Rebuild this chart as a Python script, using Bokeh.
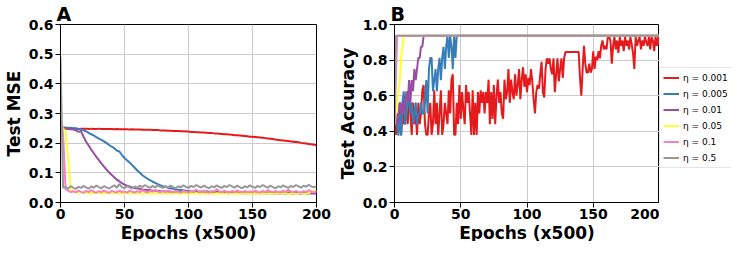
from bokeh.plotting import figure
from bokeh.layouts import row
from bokeh.models import FixedTicker, PrintfTickFormatter, Legend, LegendItem, Range1d, Title
from bokeh.embed import file_html
from bokeh.resources import INLINE

# ---------------- data ----------------
labels = ["η = 0.001", "η = 0.005", "η = 0.01", "η = 0.05", "η = 0.1", "η = 0.5"]
colors = ["#e41a1c", "#377eb8", "#984ea3", "#ffff33", "#f781bf", "#999999"]

epochs_a = list(range(0, 201, 2))

red_a = [0.260,0.250,0.249,0.249,0.250,0.249,0.249,0.248,0.249,0.249,
         0.249,0.248,0.249,0.248,0.248,0.249,0.248,0.248,0.248,0.248,
         0.248,0.247,0.248,0.247,0.247,0.247,0.247,0.246,0.247,0.246,
         0.246,0.246,0.245,0.245,0.245,0.245,0.244,0.244,0.244,0.243,
         0.243,0.243,0.242,0.242,0.241,0.241,0.241,0.240,0.240,0.239,
         0.239,0.238,0.238,0.237,0.237,0.236,0.236,0.235,0.234,0.234,
         0.233,0.233,0.232,0.231,0.230,0.230,0.229,0.228,0.227,0.227,
         0.226,0.225,0.224,0.223,0.222,0.222,0.221,0.220,0.219,0.218,
         0.217,0.216,0.215,0.214,0.212,0.211,0.210,0.209,0.208,0.207,
         0.206,0.205,0.204,0.203,0.201,0.200,0.199,0.197,0.196,0.195,
         0.193]
blue_a = [0.260,0.252,0.253,0.251,0.252,0.250,0.250,0.248,0.246,0.243,
          0.240,0.235,0.230,0.226,0.220,0.215,0.211,0.206,0.200,0.194,
          0.188,0.183,0.175,0.172,0.160,0.150,0.142,0.135,0.126,0.117,
          0.108,0.100,0.092,0.086,0.080,0.075,0.070,0.066,0.062,0.058,
          0.055,0.053,0.050,0.048,0.046,0.044,0.043,0.042,0.041,0.040,
          0.039,0.038,0.037,0.039,0.036,0.037,0.035,0.038,0.036,0.034,
          0.037,0.035,0.036,0.034,0.037,0.035,0.034,0.036,0.035,0.033,
          0.036,0.034,0.035,0.033,0.036,0.034,0.035,0.033,0.034,0.036,
          0.033,0.034,0.035,0.033,0.034,0.033,0.035,0.034,0.033,0.034,
          0.035,0.033,0.034,0.032,0.034,0.033,0.034,0.033,0.032,0.034,
          0.033]
purple_a = [0.260,0.252,0.250,0.248,0.247,0.246,0.243,0.238,0.240,0.222,
            0.205,0.192,0.178,0.166,0.154,0.143,0.131,0.121,0.111,0.101,
            0.093,0.085,0.077,0.071,0.065,0.060,0.057,0.054,0.051,0.049,
            0.047,0.046,0.044,0.043,0.042,0.041,0.040,0.040,0.039,0.038,
            0.038,0.037,0.036,0.037,0.035,0.036,0.035,0.036,0.034,0.035,
            0.034,0.035,0.034,0.033,0.034,0.033,0.034,0.033,0.032,0.033,
            0.034,0.032,0.033,0.032,0.033,0.032,0.033,0.032,0.031,0.033,
            0.032,0.031,0.032,0.031,0.032,0.031,0.032,0.031,0.032,0.031,
            0.030,0.031,0.032,0.030,0.031,0.030,0.031,0.030,0.031,0.030,
            0.031,0.030,0.031,0.030,0.030,0.031,0.030,0.030,0.031,0.030,
            0.030]
yellow_a = [0.260,0.250,0.240,0.150,0.045,0.038,0.036,0.033,0.035,0.031,
            0.034,0.032,0.030,0.033,0.031,0.034,0.030,0.032,0.031,0.033,
            0.030,0.032,0.031,0.029,0.032,0.030,0.033,0.031,0.029,0.032,
            0.030,0.031,0.029,0.032,0.030,0.031,0.029,0.031,0.030,0.032,
            0.029,0.031,0.030,0.029,0.031,0.030,0.032,0.029,0.031,0.030,
            0.029,0.031,0.030,0.032,0.029,0.031,0.030,0.029,0.031,0.030,
            0.029,0.031,0.030,0.032,0.029,0.031,0.030,0.029,0.031,0.030,
            0.029,0.031,0.030,0.032,0.029,0.030,0.031,0.029,0.030,0.031,
            0.029,0.030,0.031,0.029,0.030,0.031,0.029,0.030,0.031,0.029,
            0.030,0.031,0.029,0.030,0.032,0.029,0.030,0.031,0.038,0.040,
            0.036]
pink_a = [0.300,0.230,0.045,0.040,0.035,0.038,0.034,0.040,0.036,0.033,
          0.039,0.035,0.042,0.036,0.033,0.038,0.035,0.041,0.036,0.033,
          0.039,0.036,0.034,0.040,0.035,0.037,0.033,0.040,0.036,0.034,
          0.038,0.035,0.042,0.037,0.034,0.039,0.036,0.043,0.037,0.034,
          0.039,0.035,0.041,0.036,0.034,0.039,0.036,0.033,0.040,0.036,
          0.034,0.039,0.036,0.044,0.037,0.034,0.040,0.036,0.033,0.039,
          0.036,0.045,0.038,0.035,0.040,0.036,0.033,0.039,0.035,0.041,
          0.036,0.034,0.039,0.035,0.037,0.034,0.040,0.036,0.033,0.039,
          0.035,0.042,0.037,0.034,0.039,0.036,0.033,0.040,0.036,0.043,
          0.037,0.034,0.039,0.035,0.033,0.038,0.035,0.042,0.036,0.034,
          0.038]
gray_a = [0.490,0.050,0.052,0.047,0.055,0.050,0.046,0.053,0.049,0.056,
          0.051,0.047,0.054,0.050,0.057,0.052,0.048,0.055,0.051,0.047,
          0.053,0.058,0.050,0.062,0.052,0.048,0.055,0.051,0.047,0.054,
          0.050,0.057,0.052,0.059,0.053,0.049,0.056,0.051,0.058,0.053,
          0.049,0.055,0.051,0.057,0.052,0.048,0.055,0.051,0.058,0.053,
          0.049,0.056,0.052,0.059,0.054,0.050,0.057,0.052,0.048,0.055,
          0.051,0.058,0.053,0.049,0.056,0.052,0.059,0.054,0.050,0.057,
          0.052,0.048,0.055,0.051,0.058,0.053,0.049,0.056,0.052,0.059,
          0.054,0.050,0.057,0.052,0.048,0.055,0.051,0.058,0.053,0.049,
          0.056,0.052,0.059,0.054,0.050,0.057,0.053,0.060,0.054,0.051,
          0.056]

epochs_red_b = list(range(0, 201))
red_b = [0.44,0.38,0.50,0.44,0.56,0.38,0.50,0.44,0.56,0.50,
         0.44,0.63,0.50,0.38,0.56,0.44,0.50,0.38,0.56,0.44,
         0.50,0.63,0.66,0.44,0.38,0.38,0.50,0.56,0.38,0.44,
         0.63,0.44,0.56,0.38,0.50,0.63,0.38,0.44,0.56,0.50,
         0.44,0.63,0.50,0.69,0.72,0.38,0.38,0.56,0.44,0.66,
         0.47,0.62,0.52,0.44,0.66,0.56,0.62,0.50,0.38,0.63,
         0.38,0.56,0.38,0.62,0.50,0.63,0.56,0.62,0.50,0.62,
         0.56,0.69,0.44,0.62,0.47,0.66,0.44,0.60,0.69,0.56,
         0.62,0.50,0.47,0.69,0.58,0.62,0.75,0.56,0.69,0.62,
         0.58,0.72,0.60,0.66,0.75,0.58,0.69,0.76,0.65,0.72,
         0.62,0.70,0.66,0.75,0.68,0.58,0.50,0.62,0.66,0.64,
         0.72,0.79,0.62,0.59,0.75,0.81,0.78,0.81,0.75,0.72,
         0.81,0.62,0.72,0.81,0.68,0.75,0.81,0.70,0.81,0.845,
         0.845,0.845,0.845,0.845,0.845,0.845,0.845,0.845,0.845,0.845,
         0.70,0.60,0.75,0.88,0.78,0.73,0.73,0.78,0.73,0.75,
         0.85,0.75,0.82,0.80,0.85,0.81,0.88,0.91,0.86,0.88,
         0.86,0.93,0.93,0.91,0.78,0.88,0.93,0.86,0.91,0.84,
         0.93,0.88,0.91,0.85,0.93,0.88,0.91,0.86,0.93,0.89,
         0.84,0.75,0.93,0.88,0.91,0.93,0.86,0.91,0.88,0.93,
         0.90,0.88,0.93,0.86,0.93,0.91,0.85,0.93,0.88,0.93,
         0.88]
epochs_blue_b = list(range(0, 48)) + [200]
blue_b = [0.4375,0.5,0.4375,0.375,0.5,0.375,0.5625,0.625,0.4375,0.5,
          0.625,0.5625,0.5,0.5625,0.4375,0.5,0.5625,0.4375,0.5,0.5,
          0.5625,0.5,0.5,0.5625,0.6875,0.5,0.75,0.8125,0.8125,0.625,
          0.6875,0.75,0.625,0.75,0.8125,0.6875,0.8125,0.875,0.75,0.875,
          0.9375,0.8125,0.9375,0.875,0.75,0.9375,0.8125,0.9375,0.9375]
epochs_purple_b = list(range(0, 26)) + [200]
purple_b = [0.4375,0.5,0.4375,0.5,0.5625,0.5,0.5625,0.5,0.5625,0.625,
            0.5625,0.6875,0.5625,0.6875,0.625,0.75,0.6875,0.75,0.8125,0.8125,
            0.875,0.875,0.9375,0.9375,0.9375,0.9375,0.9375]
epochs_yellow_b = [0, 1, 2, 3, 4, 5, 6, 7, 200]
yellow_b = [0.4375, 0.5, 0.5625, 0.625, 0.6875, 0.8125, 0.875, 0.9375, 0.9375]
epochs_pink_b = [0, 1, 2, 200]
pink_b = [0.4375, 0.6875, 0.9375, 0.9375]
epochs_gray_b = [0, 1, 200]
gray_b = [0.4375, 0.9375, 0.9375]

x_ticks = [0, 50, 100, 150, 200]
y_ticks_a = [0.0, 0.1, 0.2, 0.3, 0.4, 0.5, 0.6]
y_ticks_b = [0.0, 0.2, 0.4, 0.6, 0.8, 1.0]

FONT = "DejaVu Sans"
H = 241


def style(p, yticks, ylabel, title):
    p.title.text = title
    p.title.text_font = FONT
    p.title.text_font_size = "19px"
    p.title.text_font_style = "bold"
    p.title.text_color = "black"
    p.title.align = "left"
    p.title.offset = -4
    p.title.standoff = 0
    p.xaxis.ticker = FixedTicker(ticks=x_ticks)
    p.yaxis.ticker = FixedTicker(ticks=yticks)
    p.yaxis.formatter = PrintfTickFormatter(format="%.1f")
    for ax in (p.xaxis[0], p.yaxis[0]):
        ax.major_label_text_font = FONT
        ax.major_label_text_font_size = "14px"
        ax.major_label_text_font_style = "bold"
        ax.major_label_text_color = "black"
        ax.major_tick_out = 5
        ax.major_tick_in = 0
        ax.minor_tick_out = 0
        ax.minor_tick_in = 0
        ax.axis_line_color = "black"
        ax.major_tick_line_color = "black"
        ax.major_label_standoff = 2
    p.xaxis.major_label_standoff = 1
    ya = p.yaxis[0]
    ya.axis_label = ylabel
    ya.axis_label_text_font = FONT
    ya.axis_label_text_font_size = "17px"
    ya.axis_label_text_font_style = "bold"
    ya.axis_label_text_color = "black"
    ya.axis_label_standoff = 2
    xt = Title(text="Epochs (x500)", align="center", text_font=FONT,
               text_font_size="17px", text_font_style="bold", text_color="black",
               standoff=-2, offset=0)
    p.add_layout(xt, "below")
    p.grid.grid_line_color = "#cccccc"
    p.grid.grid_line_width = 1
    p.outline_line_color = "black"
    p.outline_line_width = 1
    p.background_fill_color = "white"
    p.border_fill_color = "white"


pA = figure(width=334, height=H, output_backend="svg", toolbar_location=None,
            x_range=Range1d(0, 200), y_range=Range1d(0, 0.6),
            min_border_left=0, min_border_right=18, min_border_top=0, min_border_bottom=0)
style(pA, y_ticks_a, "Test MSE", "A")
for ys, c in zip([red_a, blue_a, purple_a, yellow_a, pink_a, gray_a], colors):
    pA.line(epochs_a, ys, line_color=c, line_width=2)

pB = figure(width=325, height=H, output_backend="svg", toolbar_location=None,
            x_range=Range1d(0, 200), y_range=Range1d(0, 1.0),
            min_border_left=0, min_border_right=0, min_border_top=0, min_border_bottom=0)
style(pB, y_ticks_b, "Test Accuracy", "B")
series_b = [(epochs_red_b, red_b), (epochs_blue_b, blue_b), (epochs_purple_b, purple_b),
            (epochs_yellow_b, yellow_b), (epochs_pink_b, pink_b), (epochs_gray_b, gray_b)]
for (xs, ys), c in zip(series_b, colors):
    pB.line(xs, ys, line_color=c, line_width=2)

# legend panel: a bare figure whose own copies of the lines lie outside its ranges
pL = figure(width=72, height=H, output_backend="svg", toolbar_location=None,
            x_range=Range1d(0, 1), y_range=Range1d(10, 11),
            min_border_left=0, min_border_right=0, min_border_top=0, min_border_bottom=0)
pL.axis.visible = False
pL.grid.visible = False
pL.outline_line_color = None
pL.background_fill_color = "white"
pL.border_fill_color = "white"
leg_renderers = [pL.line(xs, ys, line_color=c, line_width=2) for (xs, ys), c in zip(series_b, colors)]
legend = Legend(items=[LegendItem(label=l, renderers=[r]) for l, r in zip(labels, leg_renderers)],
                location=(0, 34))
legend.label_text_font = FONT
legend.label_text_font_size = "9px"
legend.label_text_color = "black"
legend.label_standoff = 4
legend.glyph_width = 16
legend.glyph_height = 13
legend.label_height = 13
legend.spacing = 3
legend.padding = 3
legend.margin = 0
legend.border_line_color = "#cccccc"
legend.border_line_width = 1
legend.background_fill_color = "white"
pL.add_layout(legend)

layout = row(pA, pB, pL)
open("out.html", "w").write(file_html(layout, INLINE))
